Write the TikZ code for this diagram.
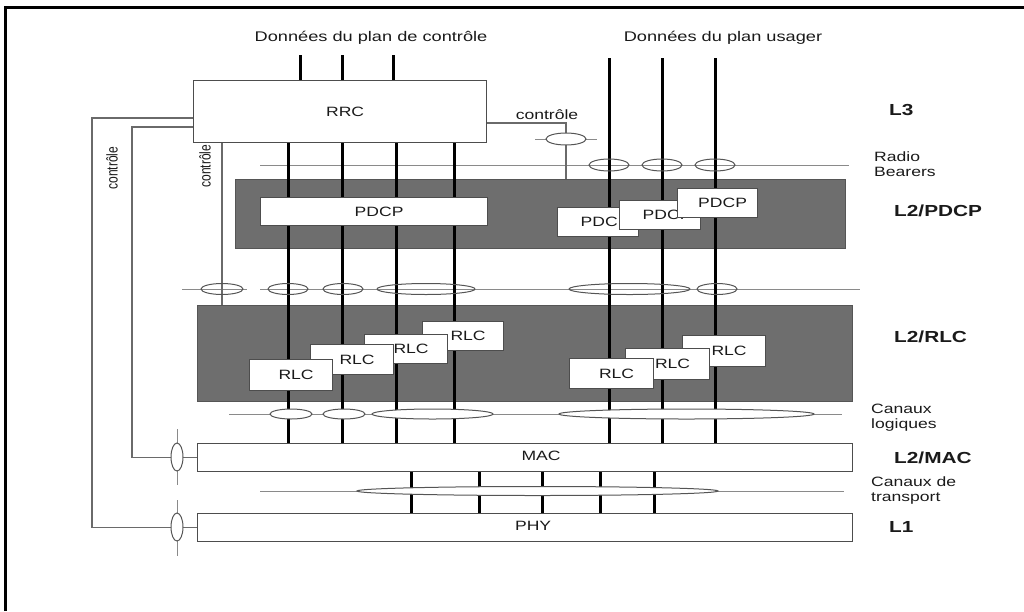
\documentclass[tikz,border=0pt]{standalone}
\usepackage{fontspec}
\setmainfont{Liberation Sans}
\newcommand{\wt}[1]{\scalebox{1.3}[1]{#1}}
\newcommand{\bt}[1]{\hspace{10pt}\scalebox{1.3}[1]{#1}}
\newcommand{\vt}[1]{\scalebox{1}[1.3]{#1}}
\definecolor{boxc}{HTML}{4D4D4D}
\definecolor{gfill}{HTML}{6E6E6E}
\definecolor{gbord}{HTML}{555555}
\definecolor{chanc}{HTML}{8A8A8A}
\definecolor{ctrlc}{HTML}{6A6A6A}
\definecolor{ellc}{HTML}{555555}
\definecolor{txt}{HTML}{1A1A1A}
\tikzset{
  wbox/.style={draw=boxc, fill=white, line width=1.2pt, inner sep=0pt, anchor=north west, font=\fontsize{13.5}{15}\selectfont, text=txt},
  gbox/.style={draw=gbord, fill=gfill, line width=1pt, inner sep=0pt, anchor=north west},
  data/.style={line width=3pt, draw=black},
  chan/.style={line width=0.9pt, draw=chanc},
  ctrl/.style={line width=1.3pt, draw=ctrlc},
  sap/.style={line width=1pt, draw=ellc},
  sapw/.style={sap, fill=white},
  lab/.style={font=\bfseries\fontsize{16}{18}\selectfont, anchor=west, text=txt, inner sep=0pt},
  note/.style={font=\fontsize{13.5}{15}\selectfont, anchor=west, align=left, text=txt, inner sep=0pt},
  vnote/.style={font=\fontsize{12}{14}\selectfont, rotate=90, text=txt, inner sep=0pt}
}
\begin{document}
\begin{tikzpicture}[x=1pt,y=-1pt]
\useasboundingbox (0,0) rectangle (1024,611);
% frame
\draw[line width=3pt] (5,611) -- (5,7.5) -- (1024,7.5);

% gray layer boxes
\node[gbox, minimum width=610pt, minimum height=69pt] (pdcpg) at (235,179) {};
\node[gbox, minimum width=655pt, minimum height=96pt] (rlcg) at (197,305) {};

% RRC, MAC, PHY
\node[wbox, minimum width=293pt, minimum height=62pt] (rrc) at (193,80) {\bt{RRC}};
\node[wbox, minimum width=655pt, minimum height=28pt] (mac) at (197,443) {\raisebox{4pt}{\hspace{32pt}\wt{MAC}}};
\node[wbox, minimum width=655pt, minimum height=28pt] (phy) at (197,513) {\raisebox{4pt}{\hspace{16pt}\wt{PHY}}};

% titles
\node[font=\fontsize{14}{16}\selectfont, text=txt] (t1) at (371,38) {\wt{Données du plan de contrôle}};
\node[font=\fontsize{14}{16}\selectfont, text=txt] (t2) at (723,38) {\wt{Données du plan usager}};

% coordinates
\coordinate (c1) at (288,0); \coordinate (c2) at (342,0);
\coordinate (c3) at (396,0); \coordinate (c4) at (454,0);
\coordinate (ct1) at (300,55); \coordinate (ct2) at (342,55); \coordinate (ct3) at (393,55);
\coordinate (u1) at (609,58); \coordinate (u2) at (662,58); \coordinate (u3) at (715,58);
\coordinate (tr1) at (411,0); \coordinate (tr2) at (479,0); \coordinate (tr3) at (542,0);
\coordinate (tr4) at (600,0); \coordinate (tr5) at (654,0);

% channel lines
\coordinate (rb0) at (260,165); \coordinate (rb1) at (849,165);
\draw[chan] (rb0) -- (rb1);
\coordinate (sa0) at (182,289); \coordinate (sa1) at (247,289);
\coordinate (sa2) at (260,289); \coordinate (sa3) at (860,289);
\draw[chan] (sa0) -- (sa1);
\draw[chan] (sa2) -- (sa3);
\coordinate (lc0) at (229,414); \coordinate (lc1) at (842,414);
\draw[chan] (lc0) -- (lc1);
\coordinate (tc0) at (260,491); \coordinate (tc1) at (844,491);
\draw[chan] (tc0) -- (tc1);

% control lines
\coordinate (k1) at (92,118);
\draw[ctrl] (k1 -| rrc.west) -- (k1) -- (k1 |- phy.west) -- (phy.west);
\coordinate (k2) at (132,127);
\draw[ctrl] (k2 -| rrc.west) -- (k2) -- (k2 |- mac.west) -- (mac.west);
\coordinate (k3) at (222,0);
\draw[ctrl] (k3 |- rrc.south) -- (k3 |- rlcg.north);
\coordinate (k4) at (566,123);
\draw[ctrl] (k4 -| rrc.east) -- (k4) -- (k4 |- pdcpg.north);
\node[vnote] (vc1) at (112,168) {\vt{contrôle}};
\node[vnote] (vc2) at (205,166) {\vt{contrôle}};
\node[font=\fontsize{13.5}{15}\selectfont, text=txt] (hc) at (547,115) {\wt{contrôle}};

% control SAP ellipses
\draw[chan] (535,139) -- (597,139);
\draw[sapw] (566,139) ellipse (20 and 6);
\draw[chan] (177,429) -- (177,485);
\draw[sapw] (177,457) ellipse (6 and 14);
\draw[chan] (177,500) -- (177,556);
\draw[sapw] (177,527) ellipse (6 and 14);

% data lines
\foreach \c in {ct1,ct2,ct3} \draw[data] (\c) -- (\c |- rrc.north);
\foreach \c in {c1,c2,c3,c4} \draw[data] (\c |- rrc.south) -- (\c |- mac.north);
\foreach \c in {u1,u2,u3} \draw[data] (\c) -- (\c |- mac.north);
\foreach \c in {tr1,tr2,tr3,tr4,tr5} \draw[data] (\c |- mac.south) -- (\c |- phy.north);

% radio bearer ellipses
\foreach \x in {609,662,715} \draw[sap] (\x,165) ellipse (20 and 6);
% PDCP/RLC ellipses
\draw[sap] (222,289) ellipse (21 and 5.5);
\draw[sap] (288,289) ellipse (20 and 5.5);
\draw[sap] (343,289) ellipse (20 and 5.5);
\draw[sap] (426,289) ellipse (49 and 5.5);
\draw[sap] (629.5,289) ellipse (60.5 and 5.5);
\draw[sap] (717,289) ellipse (20 and 5.5);
% logical channel ellipses
\draw[sapw] (291,414) ellipse (21 and 5);
\draw[sapw] (344,414) ellipse (21 and 5);
\draw[sapw] (432.5,414) ellipse (60.5 and 5);
\draw[sapw] (686.5,414) ellipse (127.5 and 5);
% transport channel ellipse
\draw[sapw] (537.5,491) ellipse (180.5 and 4.5);

% PDCP entities
\node[wbox, minimum width=227pt, minimum height=28pt] (pdcpa) at (260,197) {\bt{PDCP}};
\node[wbox, minimum width=81pt, minimum height=29pt] (pdcp1) at (557,207) {\hspace{14pt}\wt{PDCP}};
\node[wbox, minimum width=81pt, minimum height=29pt] (pdcp2) at (619,200) {\hspace{14pt}\wt{PDCP}};
\node[wbox, minimum width=80pt, minimum height=29pt] (pdcp3) at (677,188) {\bt{PDCP}};

% RLC entities
\node[wbox, minimum width=81pt, minimum height=29pt] (rlc4) at (422,321) {\bt{RLC}};
\node[wbox, minimum width=83pt, minimum height=29pt] (rlc3) at (364,334) {\bt{RLC}};
\node[wbox, minimum width=83pt, minimum height=30pt] (rlc2) at (310,344) {\bt{RLC}};
\node[wbox, minimum width=83pt, minimum height=31pt] (rlc1) at (249,359) {\bt{RLC}};
\node[wbox, minimum width=83pt, minimum height=31pt] (rlc7) at (682,335) {\bt{RLC}};
\node[wbox, minimum width=84pt, minimum height=31pt] (rlc6) at (625,348) {\bt{RLC}};
\node[wbox, minimum width=84pt, minimum height=30pt] (rlc5) at (569,358) {\bt{RLC}};

% right labels
\node[lab] (l3) at (889,110) {\wt{L3}};
\node[note] (rbl) at (874,164) {\wt{Radio}\\\wt{Bearers}};
\node[lab] (l2p) at (894,211) {\wt{L2/PDCP}};
\node[lab] (l2r) at (894,337) {\wt{L2/RLC}};
\node[note] (lcl) at (871,418) {\wt{Canaux}\\\wt{logiques}};
\node[lab] (l2m) at (894,458) {\wt{L2/MAC}};
\node[note] (tcl) at (871,490) {\wt{Canaux de}\\\wt{transport}};
\node[lab] (l1) at (889,527) {\wt{L1}};
\end{tikzpicture}
\end{document}
